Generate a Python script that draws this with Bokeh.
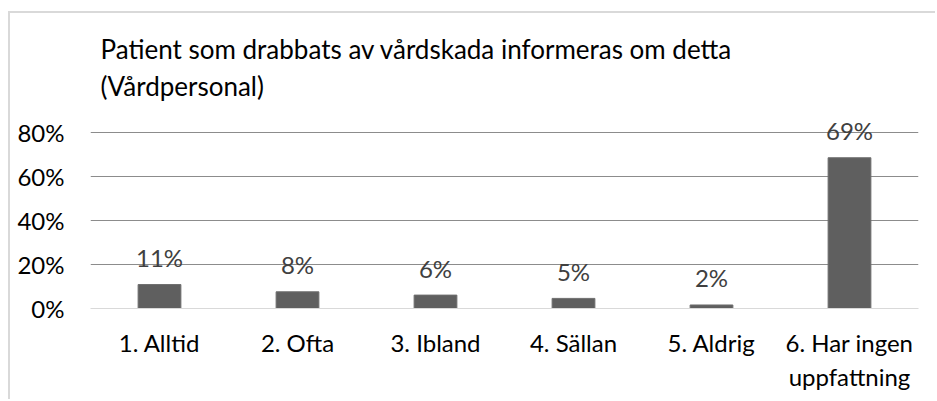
from bokeh.plotting import figure
from bokeh.models import Title, FixedTicker, PrintfTickFormatter, Range1d, ColumnDataSource
from bokeh.core.properties import value
from bokeh.embed import file_html
from bokeh.resources import INLINE

categories = ["1. Alltid", "2. Ofta", "3. Ibland", "4. Sällan", "5. Aldrig", "6. Har ingen\nuppfattning"]
values = [10.9, 7.6, 6.1, 4.6, 1.6, 68.6]
data_labels = [f"{v:.0f}%" for v in values]
y_ticks = [0, 20, 40, 60, 80]
title_text = "Patient som drabbats av vårdskada informeras om detta\n(Vårdpersonal)"

FONT = "Lato"

p = figure(
    x_range=categories,
    y_range=Range1d(0, 86),
    width=927, height=388,
    output_backend="svg", toolbar_location=None,
    min_border_left=80, min_border_right=19, min_border_top=100, min_border_bottom=93,
    margin=(11, 0, 0, 8),
    styles={"border-left": "2px solid #d9d9d9", "border-top": "2px solid #d9d9d9"},
    title=None,
)
p.outline_line_color = None
p.background_fill_color = "white"
p.border_fill_color = "white"

p.add_layout(Title(text=title_text, text_font=FONT, text_font_size="26px",
                   text_font_style="normal", text_color="#000000", text_line_height=1.16,
                   align="left", offset=10, standoff=35), "above")

src = ColumnDataSource(dict(x=categories, y=values, lab=data_labels))
p.vbar(x="x", top="y", width=0.31, source=src, fill_color="#5f5f5f", line_color="#6e6e6e", line_width=1)
p.text(x="x", y="y", text="lab", source=src, text_align="center", text_baseline="alphabetic",
       y_offset=-27, text_font=value(FONT), text_font_size="24px", text_color="#404040")

p.xgrid.grid_line_color = None
p.ygrid.ticker = FixedTicker(ticks=[t for t in y_ticks if t > 0])
p.ygrid.grid_line_color = "#8c8c8c"
p.ygrid.grid_line_width = 1

p.yaxis.ticker = FixedTicker(ticks=y_ticks)
p.yaxis.formatter = PrintfTickFormatter(format="%d%%")
p.yaxis.axis_line_color = None
p.yaxis.major_tick_line_color = None
p.yaxis.minor_tick_line_color = None
p.yaxis.major_label_standoff = 20
p.yaxis.major_label_text_font = FONT
p.yaxis.major_label_text_font_size = "24px"
p.yaxis.major_label_text_color = "#000000"

p.xaxis.axis_line_color = "#d9d9d9"
p.xaxis.axis_line_width = 1
p.xaxis.major_tick_line_color = None
p.xaxis.minor_tick_line_color = None
p.xaxis.major_label_standoff = 13
p.xaxis.major_label_text_font = FONT
p.xaxis.major_label_text_font_size = "24px"
p.xaxis.major_label_text_color = "#000000"

open("out.html", "w").write(file_html(p, INLINE))
